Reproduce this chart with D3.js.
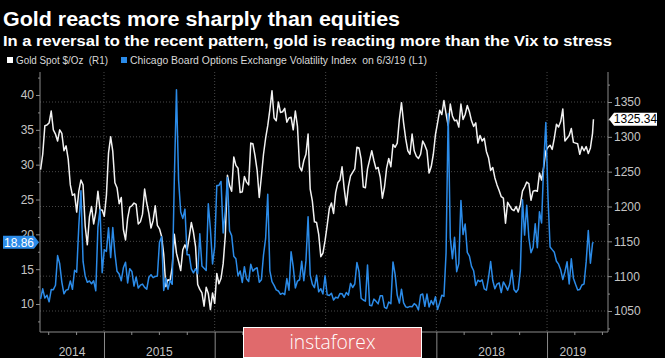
<!DOCTYPE html>
<html><head><meta charset="utf-8">
<script src="https://cdn.jsdelivr.net/npm/d3@7"></script>
<style>html,body{margin:0;padding:0;background:#000;} svg{display:block;}</style>
</head><body><svg id="c" width="665" height="358"></svg>
<script>
// ---------- DATA ----------
const titleText = "Gold reacts more sharply than equities";
const subtitleText = "In a reversal to the recent pattern, gold is reacting more than the Vix to stress";
const legendGold = "Gold Spot $/Oz  (R1)";
const legendVix = "Chicago Board Options Exchange Volatility Index  on 6/3/19 (L1)";

// first weekly observation of each year block
const weekStarts = ["2014-06-06","2015-01-02","2016-01-01","2017-01-06","2018-01-05","2019-01-04"];

const gold2014 = [1253,1275,1316,1317,1320,1337,1310,1304,1294,1310,1305,1280,1287,1268,1231,1216,1218,1192,1222,1238,1231,1172,1145,1185,1200,1175,1192,1222,1195,1195];
const gold2015 = [1186,1216,1277,1300,1279,1234,1227,1204,1213,1167,1152,1183,1199,1201,1205,1203,1175,1178,1189,1225,1205,1190,1169,1180,1201,1173,1168,1157,1131,1085,1095,1094,1113,1160,1133,1121,1108,1138,1145,1137,1156,1177,1163,1142,1088,1081,1076,1057,1084,1075,1052,1076];
const gold2016 = [1061,1104,1089,1097,1118,1158,1245,1230,1222,1271,1259,1255,1220,1221,1243,1235,1231,1291,1290,1273,1252,1213,1243,1275,1298,1316,1339,1366,1327,1323,1350,1335,1336,1341,1321,1327,1328,1310,1337,1315,1257,1251,1266,1275,1304,1225,1208,1178,1177,1160,1128,1133,1151];
const gold2017 = [1173,1197,1205,1190,1220,1234,1238,1257,1226,1202,1229,1244,1249,1254,1285,1284,1268,1228,1227,1254,1267,1280,1266,1254,1256,1242,1212,1228,1255,1269,1257,1289,1285,1291,1325,1349,1320,1297,1280,1275,1304,1280,1272,1269,1275,1294,1288,1280,1248,1257,1275,1303];
const gold2018 = [1320,1338,1332,1352,1333,1316,1347,1330,1323,1324,1314,1347,1325,1332,1345,1336,1323,1315,1320,1291,1302,1294,1298,1279,1270,1252,1256,1241,1231,1223,1214,1212,1176,1206,1201,1196,1194,1200,1192,1203,1222,1228,1235,1233,1209,1222,1223,1222,1248,1238,1257,1280];
const gold2019 = [1285,1288,1282,1298,1318,1314,1322,1340,1294,1298,1302,1312,1292,1291,1290,1275,1286,1280,1286,1276,1284,1305];

const vix2014 = [10.73,12.18,10.85,11.26,10.32,12.08,12.06,12.69,16.95,15.77,13.15,11.47,11.99,12.09,13.31,12.11,14.85,14.55,21.24,26.25,16.11,14.03,13.12,13.31,12.90,13.33,11.89,21.08,23.57,14.50];
const vix2015 = [17.79,17.55,20.95,16.66,20.97,17.29,14.69,14.30,13.34,15.20,16.00,13.02,15.07,14.67,12.58,13.89,12.29,12.70,12.86,12.38,12.13,13.84,14.21,13.78,13.96,14.02,18.85,19.66,11.95,13.74,12.12,13.39,12.83,28.03,40.74,27.80,23.20,22.28,23.62,17.08,17.08,15.05,14.46,15.07,14.33,20.08,15.47,15.12,14.81,24.39,20.70,15.74];
const vix2016 = [18.21,27.01,27.02,27.59,20.20,23.38,28.14,20.53,19.81,16.86,16.50,14.02,14.74,13.10,15.36,13.62,13.22,15.70,14.72,15.04,15.20,13.12,13.47,17.03,19.41,25.76,14.77,13.20,12.67,12.02,11.87,11.39,11.55,11.34,13.65,11.98,17.50,15.37,12.29,13.29,13.48,16.12,13.34,16.19,22.51,14.17,12.85,12.34,14.12,11.75,12.20,11.44,14.04];
const vix2017 = [11.32,11.23,11.54,10.58,10.97,10.85,11.49,11.47,10.96,11.66,11.28,12.96,12.37,12.87,15.96,14.63,10.82,10.57,10.40,15.59,9.81,9.75,10.70,10.38,10.02,11.18,11.19,9.51,9.36,10.29,10.03,16.04,14.26,11.28,10.13,12.12,10.17,9.59,9.51,9.65,9.61,10.05,9.80,9.14,11.29,11.43,9.67,11.43,9.58,10.49,9.90,11.04];
const vix2018 = [9.22,10.16,11.27,11.08,17.31,37.32,19.46,16.49,19.59,14.64,15.80,24.87,19.97,21.49,17.41,16.88,15.41,14.77,12.65,13.42,13.22,13.46,12.18,11.98,13.77,16.09,13.37,12.18,12.86,13.03,11.64,13.16,12.64,11.99,12.86,14.88,12.07,11.68,12.12,14.82,24.98,19.89,24.16,19.51,17.36,18.14,21.52,18.07,23.23,21.63,30.11,36.07];
const vix2019 = [25.45,18.19,17.80,17.42,16.14,15.72,14.91,13.51,14.63,16.05,12.88,16.48,13.71,12.82,12.01,12.09,12.73,12.87,16.04,20.55,15.85,18.71];

const lastDate = "2019-06-03";
const goldLast = 1325.34;
const vixLast = 18.86;

const leftTicks = [10,15,20,25,30,35,40];
const rightTicks = [1050,1100,1150,1200,1250,1300,1350];
const yearLabels = ["2014","2015","2016","2017","2018","2019"];
const watermark = "instaforex";

// ---------- BUILD ----------
const parse = d3.timeParse("%Y-%m-%d");
const goldYears = [gold2014,gold2015,gold2016,gold2017,gold2018,gold2019];
const vixYears = [vix2014,vix2015,vix2016,vix2017,vix2018,vix2019];
const data = [];
weekStarts.forEach((s,i)=>{
  const d0 = parse(s);
  goldYears[i].forEach((g,j)=>{
    data.push({date: d3.timeDay.offset(d0, 7*j), gold: g, vix: vixYears[i][j]});
  });
});
data.push({date: parse(lastDate), gold: goldLast, vix: vixLast});

const W = 665, H = 358;
const x = d3.scaleTime().domain([new Date(2014,5,4), new Date(2019,6,21)]).range([40,608]);
const yL = d3.scaleLinear().domain([10,40]).range([304,95]);
const yR = d3.scaleLinear().domain([1050,1350]).range([311,102]);
const plotTop = 72, plotBottom = 332;
const wm = {x0: 243.5, x1: 421.5, y0: 327.5, y1: 357.5};

const svg = d3.select("#c");
svg.append("rect").attr("width",W).attr("height",H).attr("fill","#000");

const FONT = "'Liberation Sans', Arial, Helvetica, sans-serif";
const axisCol = "#8a8a8a", labCol = "#c4c4c4";

// titles
svg.append("text").attr("x",3).attr("y",26).text(titleText)
  .attr("fill","#fff").attr("font-family",FONT).attr("font-weight","bold")
  .attr("font-size",21).attr("textLength",397).attr("lengthAdjust","spacingAndGlyphs");
svg.append("text").attr("x",3).attr("y",46).text(subtitleText)
  .attr("fill","#fff").attr("font-family",FONT).attr("font-weight","bold")
  .attr("font-size",15).attr("textLength",609).attr("lengthAdjust","spacingAndGlyphs");

// legend
const blue = "#2b8be8";
svg.append("rect").attr("x",7).attr("y",57).attr("width",6).attr("height",6).attr("fill","#fff");
svg.append("text").attr("x",16).attr("y",64).text(legendGold).style("white-space","pre")
  .attr("fill","#d8d8d8").attr("font-family",FONT).attr("font-size",10)
  .attr("textLength",92).attr("lengthAdjust","spacingAndGlyphs");
svg.append("rect").attr("x",121).attr("y",57).attr("width",6).attr("height",6).attr("fill",blue);
svg.append("text").attr("x",130).attr("y",64).text(legendVix).style("white-space","pre")
  .attr("fill","#d8d8d8").attr("font-family",FONT).attr("font-size",10)
  .attr("textLength",297).attr("lengthAdjust","spacingAndGlyphs");

// gridlines
const grid = svg.append("g");
rightTicks.forEach(t=>{
  grid.append("line").attr("x1",40).attr("x2",608).attr("y1",yR(t)).attr("y2",yR(t))
    .attr("stroke","#5a5a5a").attr("stroke-width",0.8).attr("stroke-dasharray","1,2");
});
const years = [2015,2016,2017,2018,2019].map(y=>new Date(y,0,1));
years.forEach(d=>{
  grid.append("line").attr("x1",x(d)).attr("x2",x(d)).attr("y1",plotTop).attr("y2",plotBottom)
    .attr("stroke","#5a5a5a").attr("stroke-width",0.8).attr("stroke-dasharray","1,2");
});

// axes lines
svg.append("line").attr("x1",40).attr("x2",40).attr("y1",plotTop).attr("y2",plotBottom).attr("stroke",axisCol);
svg.append("line").attr("x1",608).attr("x2",608).attr("y1",plotTop).attr("y2",plotBottom).attr("stroke",axisCol);
svg.append("line").attr("x1",40).attr("x2",608).attr("y1",plotBottom).attr("y2",plotBottom).attr("stroke",axisCol);

// left axis
const la = svg.append("g").attr("transform","translate(40,0)")
  .call(d3.axisLeft(yL).tickValues(leftTicks).tickSize(4).tickPadding(2).tickFormat(d3.format("d")));
const laMinor = svg.append("g").attr("transform","translate(40,0)")
  .call(d3.axisLeft(yL).tickValues(d3.range(7.5,43,2.5).filter(v=>v%5!==0)).tickSize(2).tickFormat(""));
// right axis
const ra = svg.append("g").attr("transform","translate(608,0)")
  .call(d3.axisRight(yR).tickValues(rightTicks).tickSize(4).tickPadding(2).tickFormat(d3.format("d")));
const raMinor = svg.append("g").attr("transform","translate(608,0)")
  .call(d3.axisRight(yR).tickValues([1025,1075,1125,1175,1225,1275,1325,1375]).tickSize(2).tickFormat(""));
// bottom axis: year separators and quarter ticks
const quarters = [];
for (let y=2014;y<=2019;y++) [3,6,9].forEach(m=>{const d=new Date(y,m,1); if(x(d)>40 && x(d)<608) quarters.push(d);});
const ba = svg.append("g").attr("transform",`translate(0,${plotBottom})`)
  .call(d3.axisBottom(x).tickValues(years).tickSize(26).tickFormat(""));
const baMinor = svg.append("g").attr("transform",`translate(0,${plotBottom})`)
  .call(d3.axisBottom(x).tickValues(quarters).tickSize(3).tickFormat(""));
[la,laMinor,ra,raMinor,ba,baMinor].forEach(g=>{
  g.select(".domain").remove();
  g.selectAll("line").attr("stroke",axisCol);
  g.selectAll("text").attr("fill",labCol).attr("font-family",FONT).attr("font-size",12);
});

// year labels centered in visible year spans (those under the watermark are hidden in the reference)
const bounds = [x.domain()[0], ...years, new Date(2019,5,20)];
yearLabels.forEach((lab,i)=>{
  const cx = (x(bounds[i]) + x(bounds[i+1]))/2;
  if (cx > wm.x0 && cx < wm.x1) return;
  svg.append("text").attr("x",cx).attr("y",356).attr("text-anchor","middle").text(lab)
    .attr("fill",labCol).attr("font-family",FONT).attr("font-size",12);
});

// series
const goldLine = d3.line().x(d=>x(d.date)).y(d=>yR(d.gold));
const vixLine = d3.line().x(d=>x(d.date)).y(d=>yL(d.vix));
svg.append("path").datum(data).attr("d",goldLine).attr("fill","none")
  .attr("stroke","#f2f2f2").attr("stroke-width",1.5).attr("stroke-linejoin","round");
svg.append("path").datum(data).attr("d",vixLine).attr("fill","none")
  .attr("stroke",blue).attr("stroke-width",1.5).attr("stroke-linejoin","round");

// last value tags
const vy = yL(vixLast);
svg.append("path").attr("d",`M3,${vy-6.5}H34L39,${vy}L34,${vy+6.5}H3Z`).attr("fill",blue);
svg.append("text").attr("x",19).attr("y",vy+4.3).attr("text-anchor","middle").text(d3.format(".2f")(vixLast))
  .attr("fill","#fff").attr("font-family",FONT).attr("font-size",12);
const gy = yR(goldLast);
svg.append("path").attr("d",`M609,${gy}L614,${gy-6.5}H657V${gy+6.5}H614Z`).attr("fill","#fff");
svg.append("text").attr("x",635.5).attr("y",gy+4.3).attr("text-anchor","middle").text(d3.format(".2f")(goldLast))
  .attr("fill","#000").attr("font-family",FONT).attr("font-size",12);

// watermark
svg.append("rect").attr("x",wm.x0).attr("y",wm.y0).attr("width",wm.x1-wm.x0).attr("height",wm.y1-wm.y0)
  .attr("fill","#e06a6c").attr("stroke","#fff").attr("stroke-width",1);
svg.append("text").attr("x",(wm.x0+wm.x1)/2).attr("y",349).attr("text-anchor","middle").text(watermark)
  .attr("fill","#fff").attr("font-family","'Open Sans', sans-serif").attr("font-weight",300)
  .attr("font-size",20).attr("textLength",86).attr("lengthAdjust","spacingAndGlyphs");
</script></body></html>
